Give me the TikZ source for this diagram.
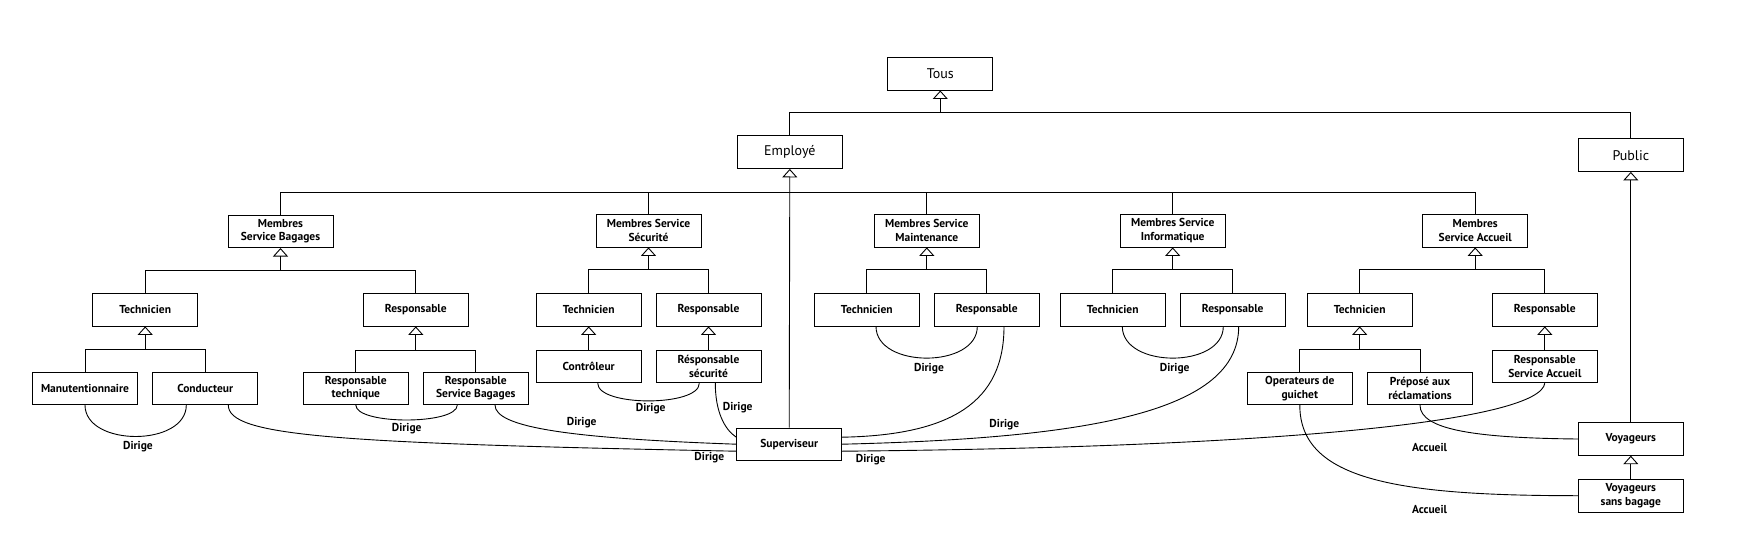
\documentclass[tikz,border=0pt]{standalone}
\usepackage{fontspec}
\setmainfont{PT Sans}
\usetikzlibrary{arrows.meta,calc}
\begin{document}
\begin{tikzpicture}[x=1pt,y=-1pt,
  box/.style={draw,line width=0.9pt,minimum width=105pt,minimum height=32.5pt,inner sep=0pt,align=center,font=\bfseries\fontsize{11.5}{13.5}\selectfont},
  topbox/.style={box,font=\fontsize{14}{16}\selectfont},
  gen/.style={line width=0.9pt,-{Triangle[open,width=15pt,length=8.5pt]}},
  ln/.style={line width=0.9pt},
  rel/.style={line width=0.9pt},
  lab/.style={font=\bfseries\fontsize{11.5}{13.5}\selectfont,inner sep=0pt}]
\useasboundingbox (0,0) rectangle (1755,548);
% nodes
\node[topbox] (tous) at (940.3,73.8) {Tous};
\node[topbox] (emp) at (789.8,152.2) {Employé};
\node[topbox] (pub) at (1630.8,155.2) {Public};
\node[box] (msb) at (280.5,231.3) {Membres\\Service Bagages};
\node[box] (mss) at (648.5,230.7) {Membres Service\\Sécurité};
\node[box] (msm) at (926.8,230.7) {Membres Service\\Maintenance};
\node[box] (msi) at (1172.7,230.7) {Membres Service\\Informatique};
\node[box] (msa) at (1475.2,230.7) {Membres\\Service Accueil};
\node[box] (tb) at (145.2,309.7) {Technicien};
\node[box] (rb) at (415.8,309.7) {Responsable};
\node[box] (ts) at (588.7,309.7) {Technicien};
\node[box] (rs) at (708.5,309.7) {Responsable};
\node[box] (tm) at (866.8,309.7) {Technicien};
\node[box] (rm) at (986.8,309.7) {Responsable};
\node[box] (ti) at (1112.7,309.7) {Technicien};
\node[box] (ri) at (1232.7,309.7) {Responsable};
\node[box] (ta) at (1359.7,309.7) {Technicien};
\node[box] (ra) at (1544.8,309.7) {Responsable};
\node[box] (manu) at (85,388.3) {Manutentionnaire};
\node[box] (cond) at (205.2,388.3) {Conducteur};
\node[box] (rtech) at (355.8,388.3) {Responsable\\technique};
\node[box] (rsb) at (475.8,388.3) {Responsable\\Service Bagages};
\node[box] (ctrl) at (588.7,366.5) {Contrôleur};
\node[box] (rsec) at (708.5,366.5) {Résponsable\\sécurité};
\node[box] (rsa) at (1544.8,366.5) {Responsable\\Service Accueil};
\node[box] (oper) at (1299.8,388.5) {Operateurs de\\guichet};
\node[box] (prep) at (1420,388.5) {Préposé aux\\réclamations};
\node[box] (sup) at (789.2,444.2) {Superviseur};
\node[box] (voy) at (1630.8,439) {Voyageurs};
\node[box] (vsb) at (1630.8,495.7) {Voyageurs\\sans bagage};
% generalisation trees
\coordinate (j0) at ($(tous.south)+(0,22.4)$);
\draw[gen] (j0) -- (tous.south);
\draw[ln] (emp.north) |- (j0) -| (pub.north);
\coordinate (j1) at ($(emp.south)+(0,23.3)$);
\draw[gen] (sup.north) -- (emp.south);
\draw[ln] (msb.north) |- (j1) -| (msa.north);
\draw[ln] (mss.north) -- (mss.north |- j1);
\draw[ln] (msm.north) -- (msm.north |- j1);
\draw[ln] (msi.north) -- (msi.north |- j1);
\foreach \p/\a/\b in {msb/tb/rb, mss/ts/rs, msm/tm/rm, msi/ti/ri, msa/ta/ra}{
  \coordinate (j\p) at ($(\p.south)+(0,22.5)$);
  \draw[gen] (j\p) -- (\p.south);
  \draw[ln] (\a.north) |- (j\p) -| (\b.north);
}
\coordinate (jtb) at ($(tb.south)+(0,23.4)$);
\draw[gen] (jtb) -- (tb.south);
\draw[ln] (manu.north) |- (jtb) -| (cond.north);
\coordinate (jrb) at ($(rb.south)+(0,24)$);
\draw[gen] (jrb) -- (rb.south);
\draw[ln] (rtech.north) |- (jrb) -| (rsb.north);
\coordinate (jta) at ($(ta.south)+(0,23.4)$);
\draw[gen] (jta) -- (ta.south);
\draw[ln] (oper.north) |- (jta) -| (prep.north);
\draw[gen] (ctrl.north) -- (ts.south);
\draw[gen] (rsec.north) -- (rs.south);
\draw[gen] (rsa.north) -- (ra.south);
\draw[gen] (voy.north) -- (pub.south);
\draw[gen] (vsb.north) -- (voy.south);
% anchor points
\coordinate (condA) at ($(cond.south)+(-18.9,0)$);
\coordinate (condB) at ($(cond.south)+(23.1,0)$);
\coordinate (rsbA) at ($(rsb.south)+(-18.5,0)$);
\coordinate (rsbB) at ($(rsb.south)+(19.2,0)$);
\coordinate (ctrlA) at ($(ctrl.south)+(9,0)$);
\coordinate (rsecA) at ($(rsec.south)+(-9.2,0)$);
\coordinate (rsecB) at ($(rsec.south)+(6.8,0)$);
\coordinate (tmA) at ($(tm.south)+(9.2,0)$);
\coordinate (rmA) at ($(rm.south)+(-9.5,0)$);
\coordinate (rmB) at ($(rm.south)+(17.2,0)$);
\coordinate (tiA) at ($(ti.south)+(9.6,0)$);
\coordinate (riA) at ($(ri.south)+(-9.4,0)$);
\coordinate (riB) at ($(ri.south)+(6,0)$);
\coordinate (supW1) at ($(sup.west)+(0,-7)$);
\coordinate (supW2) at (sup.west);
\coordinate (supW3) at ($(sup.west)+(0,7)$);
\coordinate (supE1) at ($(sup.east)+(0,-7)$);
\coordinate (supE2) at (sup.east);
\coordinate (supE3) at ($(sup.east)+(0,7)$);
% association curves
\draw[rel] (manu.south) .. controls +(0,42) and +(0,42) .. (condA);
\draw[rel] (rtech.south) .. controls +(0,20) and +(0,20) .. (rsbA);
\draw[rel] (ctrlA) .. controls +(0,23.6) and +(0,23.6) .. (rsecA);
\draw[rel] (tmA) .. controls +(0,42.3) and +(0,42.3) .. (rmA);
\draw[rel] (tiA) .. controls +(0,42.3) and +(0,42.3) .. (riA);
\draw[rel] (condB) .. controls +(0,31) and +(-406,-8) .. (supW3);
\draw[rel] (rsbB) .. controls +(0,22) and +(-170,-6) .. (supW2);
\draw[rel] (rsecB) .. controls +(0,28) and +(-12,-8) .. (supW1);
\draw[rel] (rmB) .. controls +(0,75) and +(110,-2) .. (supE1);
\draw[rel] (riB) .. controls +(0,85) and +(250,-6) .. (supE2);
\draw[rel] (rsa.south) .. controls +(-5,37) and +(450,-4) .. (supE3);
\draw[rel] (prep.south) .. controls +(0,25) and +(-100,-1) .. (voy.west);
\draw[rel] (oper.south) .. controls +(0,75) and +(-180,0) .. (vsb.west);
% labels
\node[lab] (l1) at (138,446.7) {Dirige};
\node[lab] (l2) at (406.7,428.3) {Dirige};
\node[lab] (l3) at (581.7,422.7) {Dirige};
\node[lab] (l4) at (650.7,408.3) {Dirige};
\node[lab] (l5) at (737.7,407.7) {Dirige};
\node[lab] (l6) at (709.3,457.3) {Dirige};
\node[lab] (l7) at (870.7,460) {Dirige};
\node[lab] (l8) at (1004.3,424.3) {Dirige};
\node[lab] (l9) at (929,369) {Dirige};
\node[lab] (l10) at (1174.7,369) {Dirige};
\node[lab] (l11) at (1429.5,447.3) {Accueil};
\node[lab] (l12) at (1429.5,509) {Accueil};
\end{tikzpicture}
\end{document}
